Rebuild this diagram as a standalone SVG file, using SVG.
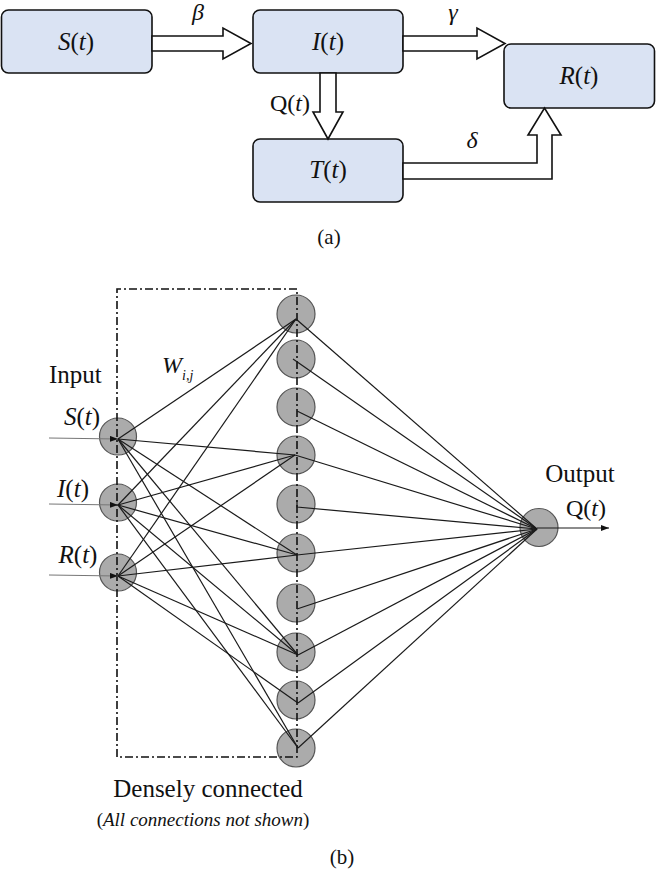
<svg xmlns="http://www.w3.org/2000/svg" width="656" height="869" viewBox="0 0 656 869">
<style>
.box{fill:#dae3f3;stroke:#111;stroke-width:1.6}
.barrow{fill:#fff;stroke:#111;stroke-width:1.6;stroke-linejoin:miter}
.t{font-family:"Liberation Serif","Times New Roman",serif;fill:#111}
.it{font-style:italic}
.node{fill:#ababab;stroke:#555;stroke-width:1.2}
.dd{fill:none;stroke:#111;stroke-width:1.6;stroke-dasharray:8 3 2 3}
.c{stroke:#1a1a1a;stroke-width:1.2;fill:none}
.in{stroke:#777;stroke-width:1.2;fill:none}
</style>
<defs>
<marker id="ah" markerWidth="8" markerHeight="6" refX="8" refY="3" orient="auto" markerUnits="userSpaceOnUse">
<path d="M0,0 L8,3 L0,6 Z" fill="#111"/>
</marker>
</defs>

<!-- (a) compartment model -->
<g id="S">
<rect class="box" x="1.5" y="10" width="150.5" height="63" rx="7"/>
<text class="t" x="76" y="50" font-size="25" text-anchor="middle"><tspan class="it">S</tspan>(<tspan class="it">t</tspan>)</text>
</g>
<g id="I">
<rect class="box" x="253" y="10" width="150" height="63" rx="7"/>
<text class="t" x="328" y="50" font-size="25" text-anchor="middle"><tspan class="it">I</tspan>(<tspan class="it">t</tspan>)</text>
</g>
<g id="R">
<rect class="box" x="504" y="44" width="150.5" height="64" rx="7"/>
<text class="t" x="579" y="84" font-size="25" text-anchor="middle"><tspan class="it">R</tspan>(<tspan class="it">t</tspan>)</text>
</g>
<g id="T">
<rect class="box" x="253" y="139" width="150" height="63" rx="7"/>
<text class="t" x="328" y="178" font-size="25" text-anchor="middle"><tspan class="it">T</tspan>(<tspan class="it">t</tspan>)</text>
</g>

<g id="flows">
<polygon class="barrow" points="152,36 223,36 223,28 251,43.5 223,59 223,51 152,51"/>
<polygon class="barrow" points="403,36 477,36 477,28 505,43.5 477,59 477,51 403,51"/>
<polygon class="barrow" points="320,73 320,112 313,112 328,139 343,112 336,112 336,73"/>
<polygon class="barrow" points="403,163 537,163 537,135 528,135 544.5,108 561,135 552,135 552,179 403,179"/>
<text class="t it" x="198" y="20" font-size="24" text-anchor="middle">β</text>
<text class="t it" x="453" y="20" font-size="24" text-anchor="middle">γ</text>
<text class="t it" x="472" y="148" font-size="24" text-anchor="middle">δ</text>
<text class="t" x="290" y="111" font-size="24" text-anchor="middle">Q(<tspan class="it">t</tspan>)</text>
</g>
<text class="t" x="329" y="244" font-size="21" text-anchor="middle">(a)</text>

<!-- (b) neural network -->
<g id="in-S"><circle class="node" cx="118" cy="436.5" r="18.5"/></g>
<g id="in-I"><circle class="node" cx="118" cy="502.5" r="18.5"/></g>
<g id="in-R"><circle class="node" cx="118" cy="572.5" r="18.5"/></g>
<g id="h0"><circle class="node" cx="296" cy="314" r="19"/></g>
<g id="h1"><circle class="node" cx="296" cy="359" r="19"/></g>
<g id="h2"><circle class="node" cx="296" cy="407" r="19"/></g>
<g id="h3"><circle class="node" cx="296" cy="455" r="19"/></g>
<g id="h4"><circle class="node" cx="296" cy="504" r="19"/></g>
<g id="h5"><circle class="node" cx="296" cy="553" r="19"/></g>
<g id="h6"><circle class="node" cx="296" cy="603" r="19"/></g>
<g id="h7"><circle class="node" cx="296" cy="652" r="19"/></g>
<g id="h8"><circle class="node" cx="296" cy="700" r="19"/></g>
<g id="h9"><circle class="node" cx="296" cy="748" r="19"/></g>
<g id="out"><circle class="node" cx="539" cy="527.5" r="19"/></g>

<g id="dense-box">
<path class="dd" d="M117,757 L117,289 L297,289 L297,757 L117,757"/>
</g>

<g id="connectors">
<line class="in" x1="49" y1="438" x2="118" y2="439" marker-end="url(#ah)"/>
<line class="in" x1="49" y1="504" x2="118" y2="505" marker-end="url(#ah)"/>
<line class="in" x1="49" y1="575" x2="118" y2="576" marker-end="url(#ah)"/>
<!-- input to hidden -->
<line class="c" x1="118" y1="439" x2="296" y2="319"/>
<line class="c" x1="118" y1="439" x2="295" y2="455"/>
<line class="c" x1="118" y1="439" x2="297" y2="555"/>
<line class="c" x1="118" y1="439" x2="298" y2="655"/>
<line class="c" x1="118" y1="439" x2="298" y2="748"/>
<line class="c" x1="118" y1="505" x2="296" y2="319"/>
<line class="c" x1="118" y1="505" x2="295" y2="455"/>
<line class="c" x1="118" y1="505" x2="297" y2="555"/>
<line class="c" x1="118" y1="505" x2="298" y2="655"/>
<line class="c" x1="118" y1="505" x2="298" y2="748"/>
<line class="c" x1="118" y1="576" x2="296" y2="319"/>
<line class="c" x1="118" y1="576" x2="295" y2="455"/>
<line class="c" x1="118" y1="576" x2="297" y2="555"/>
<line class="c" x1="118" y1="576" x2="298" y2="655"/>
<line class="c" x1="118" y1="576" x2="298" y2="703"/>
<!-- hidden to output -->
<line class="c" x1="296" y1="319" x2="537" y2="529"/>
<line class="c" x1="293" y1="359" x2="537" y2="529"/>
<line class="c" x1="297" y1="411" x2="537" y2="529"/>
<line class="c" x1="295" y1="455" x2="537" y2="529"/>
<polyline class="c" points="297,500 297,507 537,529"/>
<line class="c" x1="297" y1="555" x2="537" y2="529"/>
<line class="c" x1="297" y1="609" x2="537" y2="529"/>
<line class="c" x1="298" y1="655" x2="537" y2="529"/>
<line class="c" x1="298" y1="703" x2="537" y2="529"/>
<line class="c" x1="298" y1="748" x2="537" y2="529"/>
<line class="c" x1="537" y1="528" x2="609" y2="528" marker-end="url(#ah)"/>
</g>

<g id="labels-b">
<text class="t" x="49" y="383" font-size="25">Input</text>
<text class="t" x="82" y="425" font-size="25" text-anchor="middle"><tspan class="it">S</tspan>(<tspan class="it">t</tspan>)</text>
<text class="t" x="73" y="497" font-size="25" text-anchor="middle"><tspan class="it">I</tspan>(<tspan class="it">t</tspan>)</text>
<text class="t" x="78" y="563" font-size="25" text-anchor="middle"><tspan class="it">R</tspan>(<tspan class="it">t</tspan>)</text>
<text class="t it" x="162" y="373" font-size="24">W<tspan font-size="14" dy="7">i,j</tspan></text>
<text class="t" x="580" y="482" font-size="25" text-anchor="middle">Output</text>
<text class="t" x="586" y="516" font-size="24" text-anchor="middle">Q(<tspan class="it">t</tspan>)</text>
<text class="t" x="208" y="797" font-size="25" text-anchor="middle">Densely connected</text>
<text class="t" x="203" y="826" font-size="19" text-anchor="middle">(<tspan class="it">All connections not shown</tspan>)</text>
<text class="t" x="342" y="864" font-size="21" text-anchor="middle">(b)</text>
</g>
</svg>
